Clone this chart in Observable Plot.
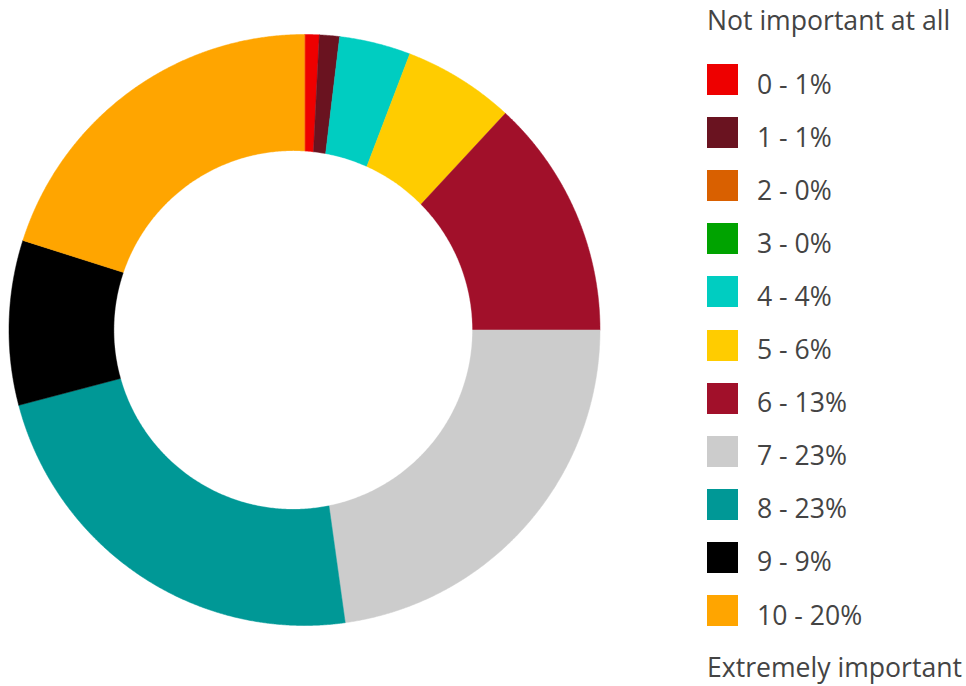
<!DOCTYPE html>
<html><head><meta charset="utf-8">
<script src="https://cdn.jsdelivr.net/npm/d3@7"></script>
<script src="https://cdn.jsdelivr.net/npm/@observablehq/plot@0.6"></script>
<style>
body{margin:0;background:#fff;font-family:"Open Sans",sans-serif;}
#wrap{position:relative;width:966px;height:686px;overflow:hidden;}
#chart{position:absolute;left:0;top:0;}
#legend{position:absolute;left:707px;top:0;color:#444;font-size:26.6px;}
.row{position:absolute;left:0;height:40px;display:flex;align-items:center;white-space:nowrap;}
.sw{width:31px;height:31px;margin-right:19px;flex:none;}
.lab{position:relative;}
</style></head><body><div id="wrap"><div id="chart"></div><div id="legend"></div></div>
<script>
const categories = ["0","1","2","3","4","5","6","7","8","9","10"];
const values = [0.8, 1.1, 0, 0, 3.9, 6.1, 13.1, 22.8, 23.1, 9.0, 20.1];
const percentLabels = ["1%","1%","0%","0%","4%","6%","13%","23%","23%","9%","20%"];
const colors = ["#ee0000","#6a1320","#d96000","#00a300","#00cdc1","#ffcc00","#a1102a","#cccccc","#009896","#000000","#ffa500"];
const topLabel = "Not important at all";
const bottomLabel = "Extremely important";

// hole: relative size and offset (in units of the outer radius)
const holeRatio = 179 / 295.5;
const holeDx = -11.3 / 295.5;

const pie = d3.pie().sort(null).value(d => d.value).startAngle(0).endAngle(2 * Math.PI);
const rows = categories.map((c, i) => ({key: c, value: values[i], color: colors[i]}));
const arcs = pie(rows);
const pts = [];
for (const a of arcs) {
  if (a.endAngle - a.startAngle <= 0) continue;
  const n = Math.max(2, Math.ceil((a.endAngle - a.startAngle) / 0.004));
  pts.push({key: a.data.key, x: 0, y: 0});
  for (let k = 0; k <= n; k++) {
    const t = a.startAngle + (a.endAngle - a.startAngle) * k / n;
    pts.push({key: a.data.key, x: Math.sin(t), y: Math.cos(t)});
  }
}
const hole = d3.range(0, 721).map(k => {
  const t = 2 * Math.PI * k / 720;
  return {x: holeDx + holeRatio * Math.sin(t), y: holeRatio * Math.cos(t)};
});

const chart = Plot.plot({
  width: 620,
  height: 686,
  margin: 0,
  x: {domain: [-1, 1], range: [8.5, 599.5], axis: null},
  y: {domain: [-1, 1], range: [625, 34], axis: null},
  color: {type: "ordinal", domain: categories, range: colors},
  marks: [
    Plot.line(pts, {x: "x", y: "y", z: "key", fill: "key", stroke: "key", strokeWidth: 0.5, curve: "linear-closed"}),
    Plot.line(hole, {x: "x", y: "y", fill: "white", stroke: "white", strokeWidth: 0.3, curve: "linear-closed"})
  ]
});
document.getElementById("chart").appendChild(chart);

const legend = document.getElementById("legend");
function addRow(center, html) {
  const r = document.createElement("div");
  r.className = "row";
  r.style.top = (center - 20) + "px";
  r.innerHTML = html;
  legend.appendChild(r);
}
addRow(20, `<span>${topLabel}</span>`);
categories.forEach((c, i) => {
  addRow(79.5 + 53.1 * i, `<div class="sw" style="background:${colors[i]}"></div><span class="lab" style="top:4px">${c} - ${percentLabels[i]}</span>`);
});
addRow(666.5, `<span>${bottomLabel}</span>`);
</script>
</body></html>
